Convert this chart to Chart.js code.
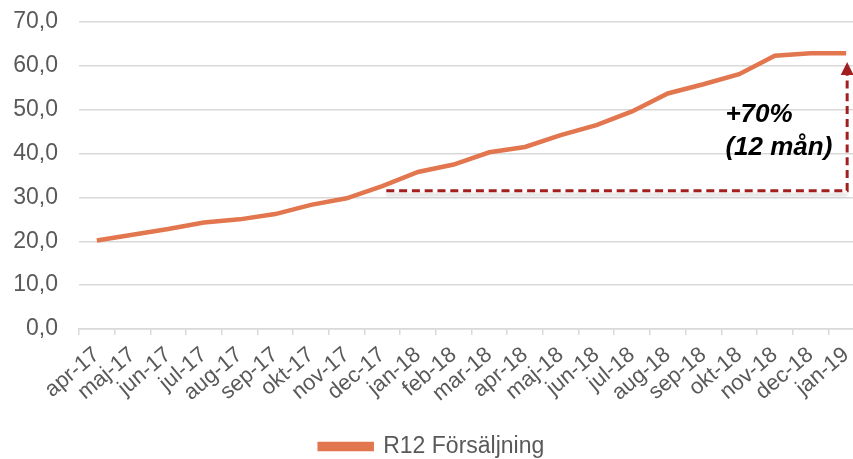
<!DOCTYPE html>
<html>
<head>
<meta charset="utf-8">
<script src="https://cdn.jsdelivr.net/npm/chart.js@4/dist/chart.umd.min.js"></script>
<style>
  html, body { margin: 0; padding: 0; background: #fff; overflow: hidden; width: 853px; height: 459px; }
</style>
</head>
<body>
<!-- plot runs past the right edge like the original crop -->
<canvas id="r12Chart" width="864" height="459"></canvas>
<script>
// months, Apr 2017 - Jan 2019
const months = ['apr-17','maj-17','jun-17','jul-17','aug-17','sep-17','okt-17','nov-17','dec-17','jan-18','feb-18',
  'mar-18','apr-18','maj-18','jun-18','jul-18','aug-18','sep-18','okt-18','nov-18','dec-18','jan-19'];
// rolling 12 month sales
const r12Sales = [20.2, 21.5, 22.8, 24.3, 25.0, 26.2, 28.3, 29.8, 32.6, 35.8, 37.5,
  40.3, 41.5, 44.2, 46.5, 49.6, 53.7, 55.8, 58.1, 62.3, 62.9, 62.9];
const yTicks = [0, 10, 20, 30, 40, 50, 60, 70];

// growth arrow: from dec-17 level over to jan-19
const growthFrom = ['dec-17', 31.5];
const growthTo = ['jan-19', 60.9];
const growthText = ['+70%', '(12 mån)'];
const growthTextAt = ['sep-18', 47.2];

const lineColor = '#e2764f';
const arrowColor = '#a31f1f';

const growthArrow = {
  id: 'growthArrow',
  afterDatasetsDraw(chart) {
    const { ctx, scales: { x, y } } = chart;
    const x0 = x.getPixelForValue(months.indexOf(growthFrom[0])) + 4;
    const x1 = x.getPixelForValue(months.indexOf(growthTo[0])) + 1;
    const y0 = y.getPixelForValue(growthFrom[1]);
    const y1 = y.getPixelForValue(growthTo[1]);
    ctx.save();
    // soft shadow under the base line
    ctx.strokeStyle = 'rgba(0,0,0,0.13)';
    ctx.lineWidth = 3;
    ctx.filter = 'blur(1.5px)';
    ctx.beginPath();
    ctx.moveTo(x0, y0 + 4);
    ctx.lineTo(x1, y0 + 4);
    ctx.stroke();
    ctx.filter = 'none';

    ctx.strokeStyle = arrowColor;
    ctx.lineWidth = 3;
    ctx.setLineDash([8, 4.8]);
    ctx.beginPath();
    ctx.moveTo(x0, y0);
    ctx.lineTo(x1, y0);
    ctx.lineTo(x1, y1 + 12);
    ctx.stroke();
    ctx.setLineDash([]);
    ctx.fillStyle = arrowColor;
    ctx.beginPath();
    ctx.moveTo(x1, y1);
    ctx.lineTo(x1 - 6.5, y1 + 13);
    ctx.lineTo(x1 + 6.5, y1 + 13);
    ctx.closePath();
    ctx.fill();

    ctx.fillStyle = '#000';
    ctx.font = 'italic bold 26px "Liberation Sans", Arial, sans-serif';
    ctx.textAlign = 'left';
    ctx.textBaseline = 'alphabetic';
    const tx = x.getPixelForValue(months.indexOf(growthTextAt[0])) + 22;
    const ty = y.getPixelForValue(growthTextAt[1]);
    ctx.fillText(growthText[0], tx, ty);
    ctx.fillText(growthText[1], tx, ty + 33);
    ctx.restore();
  }
};

new Chart(document.getElementById('r12Chart'), {
  type: 'line',
  data: {
    labels: months,
    datasets: [{
      label: 'R12 Försäljning',
      data: r12Sales,
      borderColor: lineColor,
      backgroundColor: lineColor,
      borderWidth: 4.5,
      pointRadius: 0,
      tension: 0,
      fill: false
    }]
  },
  options: {
    responsive: false,
    animation: false,
    layout: { padding: { top: 22, right: 0, left: 0, bottom: -9 } },
    plugins: {
      legend: {
        position: 'bottom',
        labels: {
          color: '#595959',
          font: { family: '"Liberation Sans", Arial', size: 23 },
          boxWidth: 52,
          boxHeight: 5,
          padding: 1
        }
      },
      tooltip: { enabled: false }
    },
    scales: {
      x: {
        offset: true,
        afterFit(axis) { axis.height = 105; axis.paddingLeft = 0; axis.paddingRight = 0; },
        grid: { display: true, drawOnChartArea: false, drawTicks: true, tickLength: 6, offset: true, color: '#d9d9d9', lineWidth: 1.5 },
        border: { color: '#d9d9d9', width: 1.5 },
        ticks: {
          color: '#595959',
          font: { family: '"Liberation Sans", Arial', size: 22 },
          minRotation: 40,
          maxRotation: 40,
          autoSkip: false,
          padding: 7
        }
      },
      y: {
        min: 0,
        max: 70,
        afterBuildTicks(axis) { axis.ticks = yTicks.map(v => ({ value: v })); },
        afterFit(axis) { axis.width = 79; axis.paddingTop = 0; axis.paddingBottom = 0; },
        grid: { color: '#d9d9d9', lineWidth: 1.5, drawTicks: false },
        border: { display: false },
        ticks: {
          color: '#595959',
          font: { family: '"Liberation Sans", Arial', size: 23 },
          padding: 21,
          callback: v => v.toFixed(1).replace('.', ',')
        }
      }
    }
  },
  plugins: [growthArrow]
});
</script>
</body>
</html>
